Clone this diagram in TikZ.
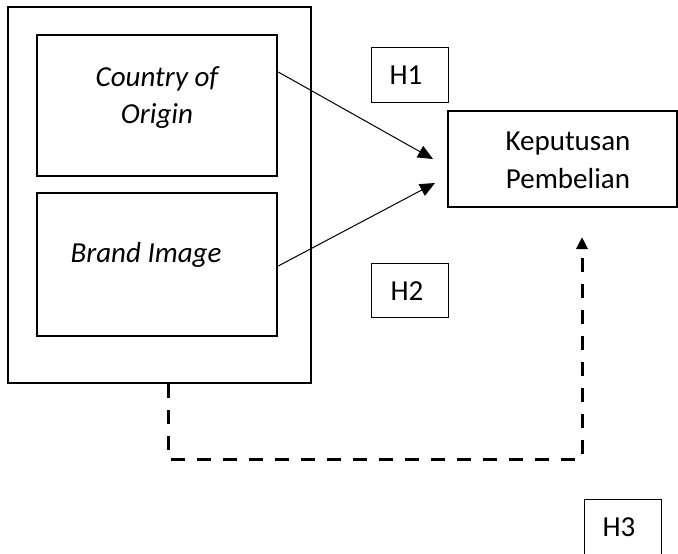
\documentclass[tikz,border=0pt]{standalone}
\usepackage{fontspec}
\setmainfont{Carlito}
\usetikzlibrary{arrows.meta}
\begin{document}
\begin{tikzpicture}[x=1pt,y=-1pt,
  txt/.style={font=\fontsize{29}{37.5}\selectfont, inner sep=0pt, anchor=base},
  thickbox/.style={draw, line width=2.5pt, inner sep=0pt},
  outerbox/.style={draw, line width=2pt, inner sep=0pt},
  hbox/.style={draw, line width=1pt, inner sep=0pt},
  arr/.style={line width=1pt, -{Triangle[length=15pt,width=13pt]}},
  dasharr/.style={line width=3pt, dash pattern=on 14pt off 12pt, -{Triangle[length=12pt,width=11pt]}}]
\useasboundingbox (0,0) rectangle (678,554);
% boxes
\node[outerbox, minimum width=303pt, minimum height=376pt] (outer) at (159.5,195) {};
\node[thickbox, minimum width=240pt, minimum height=141pt] (coo) at (157,105.5) {};
\node[thickbox, minimum width=240pt, minimum height=143pt] (brand) at (157,264.5) {};
\node[thickbox, minimum width=229pt, minimum height=96pt] (kp) at (562.5,159) {};
\node[hbox, minimum width=77pt, minimum height=55pt] (h1box) at (409.5,74.5) {};
\node[hbox, minimum width=77pt, minimum height=54pt] (h2box) at (409.5,290) {};
\node[hbox, minimum width=77pt, minimum height=55pt] (h3box) at (622.5,527) {};
% texts
\node[txt] (t1) at (157,86) {\itshape Country of};
\node[txt] (t2) at (157,123) {\itshape Origin};
\node[txt] (t3) at (146,262) {\itshape Brand Image};
\node[txt] (t4) at (568,150) {Keputusan};
\node[txt] (t5) at (568,188) {Pembelian};
\node[txt] (h1) at (406,84) {H1};
\node[txt] (h2) at (407,300) {H2};
\node[txt] (h3) at (619,536) {H3};
% arrows
\coordinate (e1) at (433,159);
\coordinate (e2) at (435,183);
\draw[arr] (coo.east |- 0,72) -- (e1);
\draw[arr] (brand.east |- 0,266) -- (e2);
\coordinate (d1) at (168,459);
\coordinate (d2) at (582,459);
\coordinate (d3) at (582,237);
\draw[dasharr] (outer.south -| d1) -- (d1) -- (d2) -- (d3);
\end{tikzpicture}
\end{document}
